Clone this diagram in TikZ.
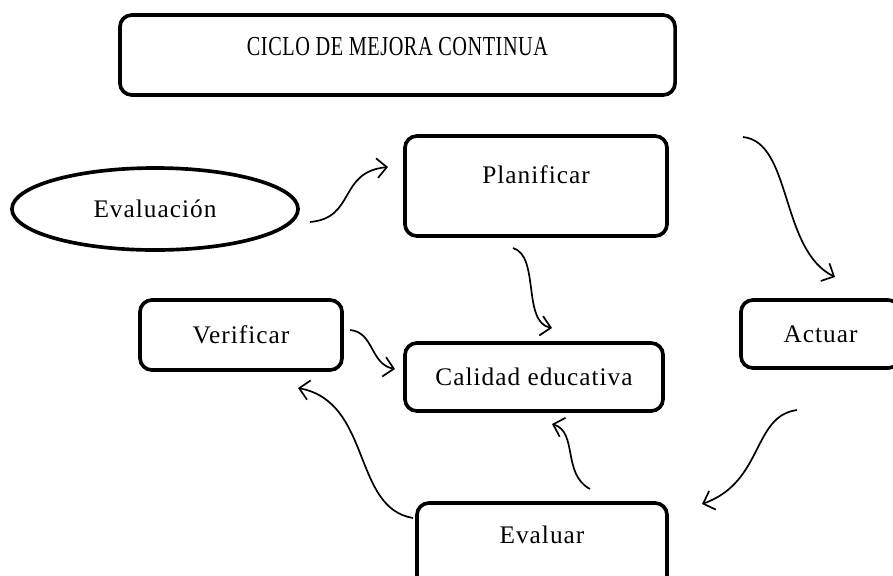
\documentclass[tikz,border=0pt]{standalone}
\usepackage{fontspec}
\setmainfont[LetterSpace=4]{Liberation Serif}
\newfontfamily\titlefont[FakeStretch=0.74,LetterSpace=2]{Liberation Serif}
\usetikzlibrary{shapes.geometric}
\usetikzlibrary{arrows.meta}

\tikzset{
  box/.style={draw, line width=2.6pt, rounded corners=8.5pt, inner sep=0pt, font=\fontsize{18}{20}\selectfont},
  oval/.style={ellipse, draw, line width=2.6pt, inner sep=0pt, font=\fontsize{18}{20}\selectfont},
  arr/.style={-{Straight Barb[length=7pt,width=14pt]}, line width=1.2pt},
}

\begin{document}
\begin{tikzpicture}[x=0.025cm, y=-0.025cm]
\useasboundingbox (0,0) rectangle (893,575);
\node[box, minimum width=13.875cm, text height=1cm, text depth=1cm, font=\titlefont\fontsize{19.5}{20}\selectfont] (title) at (397.5,55) {CICLO DE MEJORA CONTINUA};
\node[oval, minimum width=7.15cm, minimum height=2.05cm] (evalc) at (155,209) {Evaluación};
\node[box, minimum width=6.55cm, text height=1.175cm, text depth=1.325cm] (plan) at (536,186) {Planificar};
\node[box, minimum width=5.05cm, minimum height=1.75cm] (verif) at (241,335) {Verificar};
\node[box, minimum width=6.45cm, minimum height=1.7cm] (calidad) at (534,377) {Calidad educativa};
\node[box, minimum width=3.975cm, minimum height=1.7cm] (actuar) at (820.5,334) {Actuar};
\node[box, minimum width=6.25cm, text height=1cm, text depth=1.175cm] (evaluar) at (542,546.5) {Evaluar};
\coordinate (a1) at (310,222);
\coordinate (b1) at (388,167);
\coordinate (a2) at (513,248);
\coordinate (b2) at (552,328);
\coordinate (a3) at (743,137);
\coordinate (b3) at (835,277);
\coordinate (a4) at (350,330);
\coordinate (b4) at (395,369);
\coordinate (a5) at (413,518);
\coordinate (b5) at (298,388);
\coordinate (a6) at (590,489);
\coordinate (b6) at (552,424);
\coordinate (a7) at (797,410);
\coordinate (b7) at (702,504);
\draw[arr] (a1) .. controls (356,218) and (338,172) .. (b1);
\draw[arr] (a2) .. controls (540,256) and (522,322) .. (b2);
\draw[arr] (a3) .. controls (792,142) and (780,250) .. (b3);
\draw[arr] (a4) .. controls (374,332) and (370,364) .. (b4);
\draw[arr] (a5) .. controls (352,508) and (372,402) .. (b5);
\draw[arr] (a6) .. controls (562,474) and (578,432) .. (b6);
\draw[arr] (a7) .. controls (752,416) and (764,482) .. (b7);
\end{tikzpicture}
\end{document}
